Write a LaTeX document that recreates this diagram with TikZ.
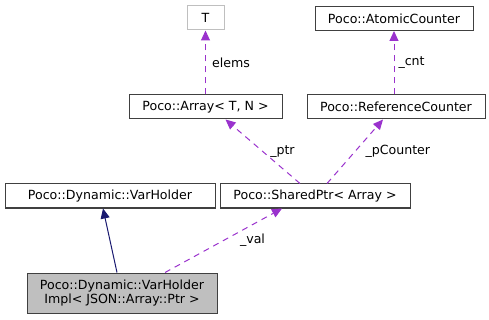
\documentclass[tikz,border=0pt]{standalone}
\usepackage{fontspec}
\setmainfont{DejaVu Sans}
\usetikzlibrary{arrows.meta}
\definecolor{memberedge}{HTML}{9A32CD}
\definecolor{baseedge}{HTML}{191970}
\definecolor{focusfill}{HTML}{BFBFBF}
\tikzset{
	cls/.style={draw=black!75,line width=1pt,fill=white,inner sep=0pt,minimum height=24pt,font=\fontsize{12.6}{14.5}\selectfont},
	extcls/.style={cls,draw=black!25},
	focus/.style={cls,fill=focusfill,align=center,minimum height=40pt},
	member/.style={draw=memberedge,line width=1pt,dash pattern=on 6pt off 5pt,-{Triangle[length=10pt,width=9pt,fill=memberedge]}},
	base/.style={draw=baseedge,line width=1pt,-{Triangle[length=10pt,width=9pt,fill=baseedge]}},
	lbl/.style={anchor=west,inner sep=0pt,font=\fontsize{12.6}{14.5}\selectfont}
}

\begin{document}
\begin{tikzpicture}[x=1pt,y=-1pt]
	\useasboundingbox (0,0) rectangle (489,320);

	\node [extcls,minimum width=37pt] (t) at (205.5,18) {T};
	\node [cls,minimum width=158pt] (atomic) at (394,18.5) {Poco::AtomicCounter};
	\node [cls,minimum width=153pt] (array) at (205.5,107) {Poco::Array< T, N >};
	\node [cls,minimum width=178pt] (refc) at (396,107) {Poco::ReferenceCounter};
	\node [cls,minimum width=210pt] (varh) at (110,196) {Poco::Dynamic::VarHolder};
	\node [cls,minimum width=190pt] (shared) at (315,196) {Poco::SharedPtr< Array >};
	\node [focus,minimum width=190pt] (impl) at (122,293) {Poco::Dynamic::VarHolder\\Impl< JSON::Array::Ptr >};

	\draw [member] (array.north) -- (t.south) node [lbl,midway,xshift=6pt] (elems) {elems};
	\draw [member] (refc.north -| atomic.south) -- (atomic.south) node [lbl,midway,xshift=4pt] (cnt) {\_cnt};
	\draw [member] ([xshift=-15pt]shared.north) -- ([xshift=20pt]array.south) node [lbl,midway,xshift=7pt] (ptr) {\_ptr};
	\draw [member] ([xshift=12pt]shared.north) -- ([xshift=-13pt]refc.south) node [lbl,midway,xshift=10pt] (pcnt) {\_pCounter};
	\draw [member] ([xshift=43pt]impl.north) -- ([xshift=-33pt]shared.south) node [lbl,midway,xshift=16pt] (val) {\_val};
	\draw [base] ([xshift=-5pt]impl.north) -- ([xshift=-7pt]varh.south);
\end{tikzpicture}
\end{document}
